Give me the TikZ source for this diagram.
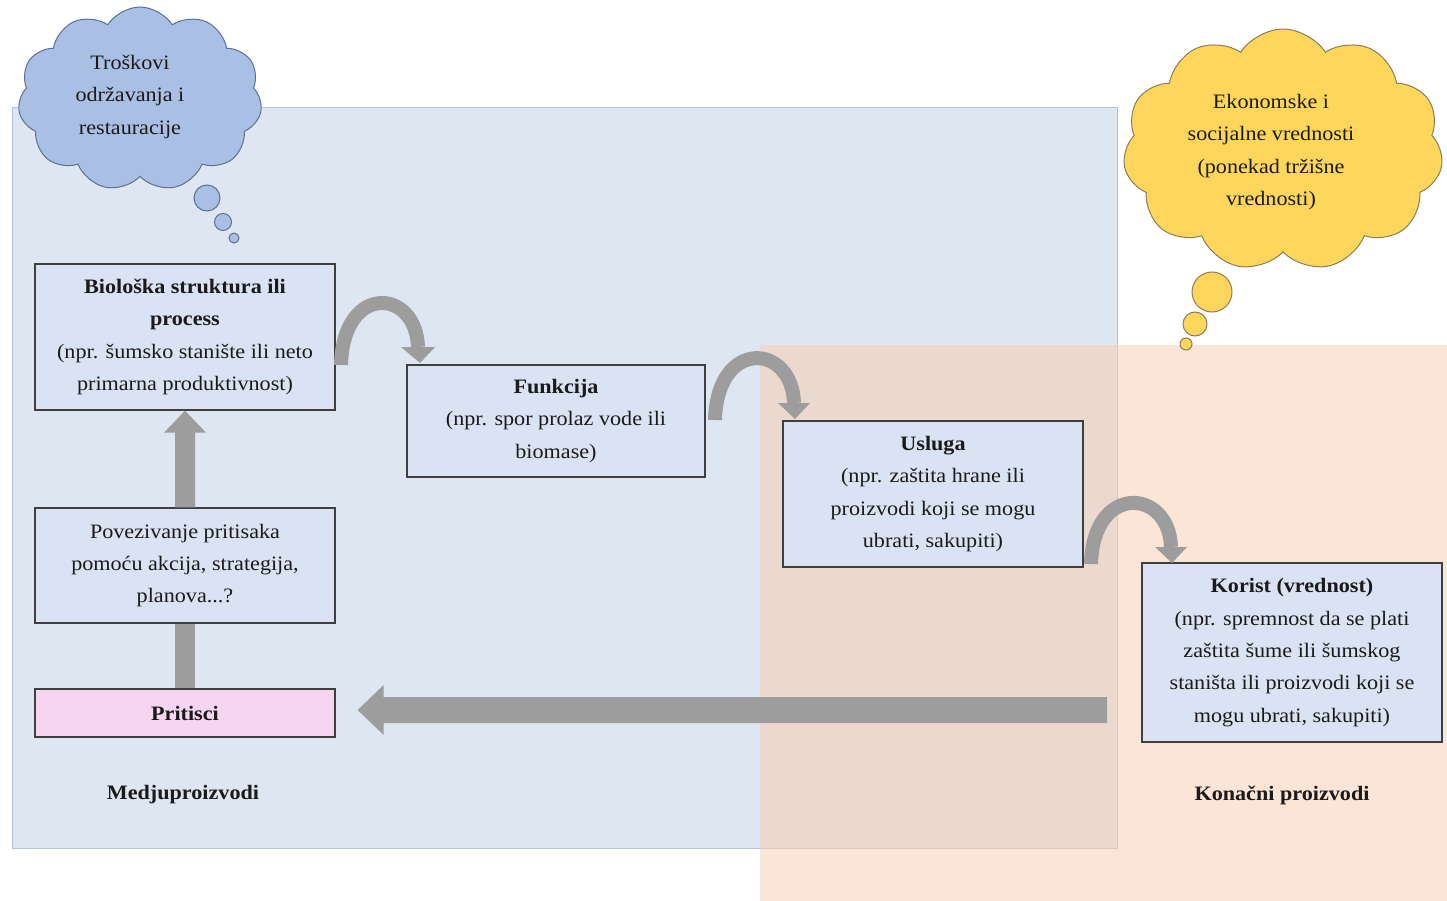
\documentclass[tikz,border=0pt]{standalone}
\usepackage{fontspec}
\setmainfont{Liberation Serif}[FakeStretch=1.08]
\usetikzlibrary{shapes.symbols,calc}
\definecolor{bgblue}{HTML}{DEE6F1}
\definecolor{bgline}{HTML}{B8C3D3}
\definecolor{peach}{HTML}{F8CBAD}
\definecolor{boxfill}{HTML}{DAE3F3}
\definecolor{boxline}{HTML}{3F3F3F}
\definecolor{pinkfill}{HTML}{F6D5F1}
\definecolor{arrowgray}{HTML}{9D9D9D}
\definecolor{cloudblue}{HTML}{A9C0E4}
\definecolor{cloudblueline}{HTML}{5B7095}
\definecolor{cloudyellow}{HTML}{FDD65B}
\definecolor{cloudyellowline}{HTML}{8A7D5A}
\definecolor{txt}{HTML}{1A1A1A}
\begin{document}
\begin{tikzpicture}[x=1pt,y=-1pt,
  box/.style={draw=boxline, line width=1.3pt, fill=boxfill, inner sep=0pt, align=center, text=txt,
    font=\fontsize{20.5}{32.4}\selectfont},
  lbl/.style={inner sep=0pt, align=center, text=txt, font=\fontsize{20.5}{32.4}\selectfont},
  bluecloud/.style={cloud, cloud puffs=11, cloud puff arc=115, cloud ignores aspect, fill=cloudblue, draw=cloudblueline, line width=1pt},
  yellowcloud/.style={cloud, cloud puffs=11, cloud puff arc=115, cloud ignores aspect, fill=cloudyellow, draw=cloudyellowline, line width=1pt},
  curv/.style={draw=arrowgray, line width=14pt},
  ahead/.style={fill=arrowgray}]
\useasboundingbox (0,0) rectangle (1447,901);
% background regions
\fill[bgblue, draw=bgline, line width=0.8pt] (12,107) rectangle (1117,848);
\fill[peach, opacity=0.5] (760,345) rectangle (1447,901);

% clouds
\node[bluecloud, minimum width=244pt, minimum height=184pt] (c1) at (140,99) {};
\node[lbl] (c1t) at (130,97) {Troškovi\\održavanja i\\restauracije};
\node[circle, fill=cloudblue, draw=cloudblueline, line width=1pt, minimum size=26pt, inner sep=0pt] (b11) at (207,198) {};
\node[circle, fill=cloudblue, draw=cloudblueline, line width=1pt, minimum size=17pt, inner sep=0pt] (b12) at (223,222) {};
\node[circle, fill=cloudblue, draw=cloudblueline, line width=1pt, minimum size=10pt, inner sep=0pt] (b13) at (234,238) {};

\node[yellowcloud, minimum width=320pt, minimum height=242pt] (c2) at (1283,150) {};
\node[lbl] (c2t) at (1271,152) {Ekonomske i\\socijalne vrednosti\\(ponekad tržišne\\vrednosti)};
\node[circle, fill=cloudyellow, draw=cloudyellowline, line width=1pt, minimum size=40pt, inner sep=0pt] (b21) at (1212,292) {};
\node[circle, fill=cloudyellow, draw=cloudyellowline, line width=1pt, minimum size=24pt, inner sep=0pt] (b22) at (1195,324) {};
\node[circle, fill=cloudyellow, draw=cloudyellowline, line width=1pt, minimum size=12pt, inner sep=0pt] (b23) at (1186,344) {};

% boxes
\node[box, minimum width=300pt, minimum height=146pt] (bio) at (185,337)
  {\textbf{Biološka struktura ili}\\\textbf{process}\\(npr. šumsko stanište ili neto\\primarna produktivnost)};
\node[box, minimum width=298pt, minimum height=112pt] (funk) at (556,421)
  {\textbf{Funkcija}\\(npr. spor prolaz vode ili\\biomase)};
\node[box, minimum width=300pt, minimum height=146pt] (usl) at (933,494)
  {\textbf{Usluga}\\(npr. zaštita hrane ili\\proizvodi koji se mogu\\ubrati, sakupiti)};
\node[box, minimum width=300pt, minimum height=179pt] (kor) at (1292,652.5)
  {\textbf{Korist (vrednost)}\\(npr. spremnost da se plati\\zaštita šume ili šumskog\\staništa ili proizvodi koji se\\mogu ubrati, sakupiti)};
\node[box, minimum width=300pt, minimum height=115pt] (pov) at (185,565.5)
  {Povezivanje pritisaka\\pomoću akcija, strategija,\\planova...?};
\node[box, fill=pinkfill, minimum width=300pt, minimum height=48pt] (prit) at (185,713)
  {\textbf{Pritisci}};

% labels
\node[lbl, font=\fontsize{20.5}{32.4}\selectfont\bfseries] (l1) at (183,795) {Medjuproizvodi};
\node[lbl, font=\fontsize{20.5}{32.4}\selectfont\bfseries] (l2) at (1282,795) {Konačni proizvodi};

% vertical arrows
\fill[arrowgray] ($(prit.north)+(-10,0)$) rectangle ($(pov.south)+(10,0)$);
\fill[arrowgray] ($(pov.north)+(-10,0)$) -- ($(bio.south)+(-10,22)$) -- ($(bio.south)+(-21,22)$)
  -- (bio.south) -- ($(bio.south)+(21,22)$) -- ($(bio.south)+(10,22)$) -- ($(pov.north)+(10,0)$) -- cycle;

% horizontal arrow
\coordinate (hs) at (1107,710);
\coordinate (ht) at ($(prit.east)+(22,-3)$);
\fill[arrowgray] ($(hs)+(0,-13)$) -- ($(ht)+(26,-13)$) -- ($(ht)+(26,-25)$) -- (ht)
  -- ($(ht)+(26,25)$) -- ($(ht)+(26,13)$) -- ($(hs)+(0,13)$) -- cycle;

% curved arrows
\coordinate (a1s) at (341,365);
\coordinate (a1e) at (418,347);
\draw[curv] (a1s) .. controls (343,283) and (416,288) .. (a1e);
\fill[ahead] ($(a1e)+(-17,0)$) -- ($(a1e)+(17,0)$) -- ($(a1e)+(2,16)$) -- cycle;

\coordinate (a2s) at (715,420);
\coordinate (a2e) at (794,403);
\draw[curv] (a2s) .. controls (717,338) and (792,343) .. (a2e);
\fill[ahead] ($(a2e)+(-16,0)$) -- ($(a2e)+(16,0)$) -- ($(a2e)+(1,16)$) -- cycle;

\coordinate (a3s) at (1091,564);
\coordinate (a3e) at (1171,547);
\draw[curv] (a3s) .. controls (1093,483) and (1169,488) .. (a3e);
\fill[ahead] ($(a3e)+(-16,0)$) -- ($(a3e)+(16,0)$) -- ($(a3e)+(1,16)$) -- cycle;
\end{tikzpicture}
\end{document}
